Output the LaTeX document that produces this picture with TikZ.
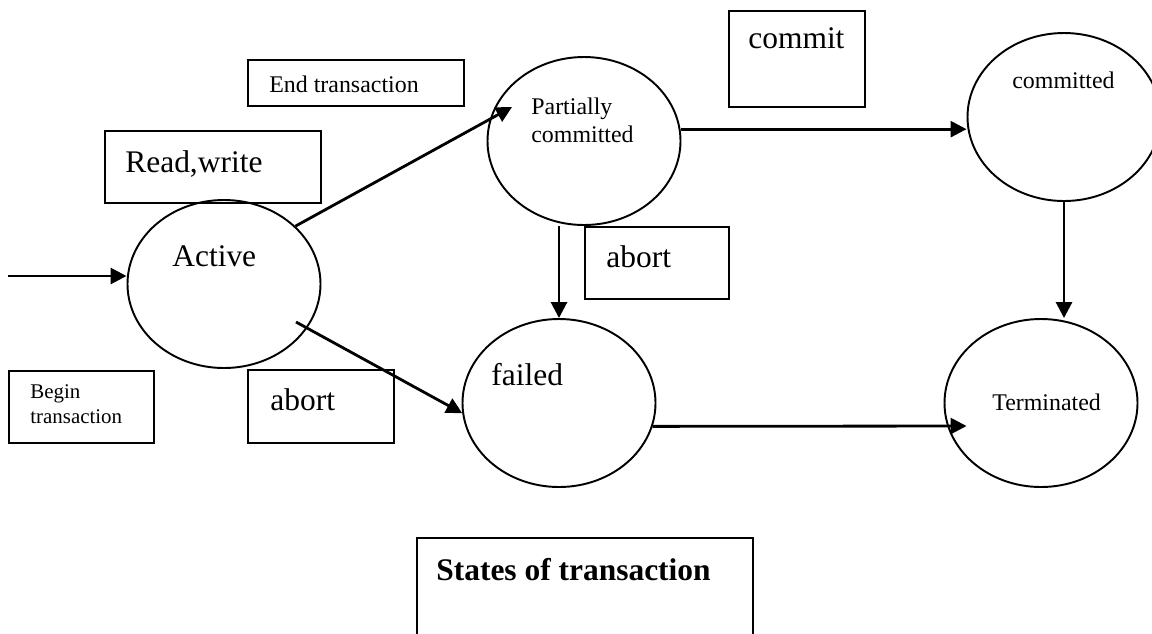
\documentclass[tikz,border=0pt]{standalone}
\usepackage{fontspec}
\setmainfont{Liberation Serif}
\usetikzlibrary{positioning,calc,arrows.meta,shapes.geometric}
\tikzset{
  state/.style     = {ellipse,draw,line width=1.1pt,minimum width=3.86cm,minimum height=3.36cm,inner sep=0pt},
  tag/.style       = {draw,line width=1.1pt,inner sep=0pt,anchor=north west},
  bigtext/.style   = {inner sep=0pt,anchor=base west,font=\fontsize{17.9}{21}\selectfont},
  smalltext/.style = {inner sep=0pt,anchor=base west,align=left,font=\fontsize{13.6}{15.9}\selectfont},
  tinytext/.style  = {inner sep=0pt,anchor=base west,align=left,font=\fontsize{11.9}{14.2}\selectfont},
  flow/.style      = {line width=1.6pt,-{Triangle[length=9pt,width=9pt]}},
}
\newcommand{\DrawTag}[7]{%
  % draws the frame of the tag
  \node[tag,minimum width=#3cm,minimum height=#4cm] (#1) at #2 {};
  % writes its text (upper left, #6 = base of last line)
  \node[#5] at ($(#1.north west)+#6$) {#7};
}

\begin{document}
\begin{tikzpicture}
  \useasboundingbox (0,0) rectangle (23.04,-12.66);

  % states
  \node[state] (act)  at (4.48,-5.68)  {};
  \node[state] (pc)   at (11.68,-2.82) {};
  \node[state] (com)  at (21.28,-2.34) {};
  \node[state] (fail) at (11.18,-8.06) {};
  \node[state] (term) at (20.82,-8.06) {};

  \node[bigtext]   at ($(act.center)+(-1.04,0.36)$)  {Active};
  \node[smalltext] at ($(pc.center)+(-1.06,-0.02)$)  {Partially\\committed};
  \node[smalltext] at ($(com.center)+(-1.04,0.58)$)  {committed};
  \node[bigtext]   at ($(fail.center)+(-1.36,0.36)$) {failed};
  \node[smalltext] at ($(term.center)+(-0.98,-0.14)$) {Terminated};

  % transitions
  \coordinate (start) at (0.16,-5.52);
  \draw[flow] (start) -- (start -| act.west);
  \draw[flow] (act.39) -- ($(pc.center)+(-1.44,0.68)$);
  \draw[flow] ($(act.center)+(1.44,-0.76)$) -- (fail.186);
  \draw[flow] (pc.7) -- (pc.7 -| com.west);
  \draw[flow] (fail.north |- pc.south) -- (fail.north);
  \draw[flow] (com.south) -- (com.south |- term.north);
  \draw[flow] (fail.-14) -- ($(term.west)+(0.46,-0.46)$);

  % tags
  \DrawTag{endt}{(4.94,-1.18)}{4.32}{0.92}{smalltext}{(0.44,-0.66)}{End transaction}
  \DrawTag{cmt}{(14.56,-0.2)}{2.72}{1.92}{bigtext}{(0.4,-0.76)}{commit}
  \DrawTag{rw}{(2.08,-2.6)}{4.32}{1.44}{bigtext}{(0.42,-0.84)}{Read,write}
  \DrawTag{abp}{(11.68,-4.52)}{2.88}{1.44}{bigtext}{(0.44,-0.82)}{abort}
  \DrawTag{bgt}{(0.16,-7.4)}{2.9}{1.44}{tinytext}{(0.44,-1.06)}{Begin\\transaction}
  \DrawTag{aba}{(4.94,-7.38)}{2.92}{1.46}{bigtext}{(0.46,-0.82)}{abort}
  \DrawTag{title}{(8.32,-10.74)}{6.72}{2.0}{bigtext}{(0.4,-0.86)}{\bfseries States of transaction}
\end{tikzpicture}
\end{document}
